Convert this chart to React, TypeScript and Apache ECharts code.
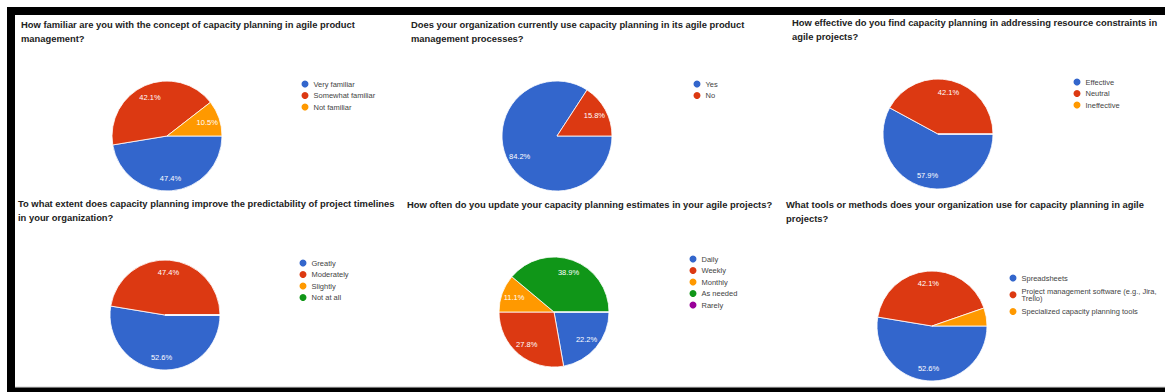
import React, { useEffect, useRef } from 'react';
import * as echarts from 'echarts';

const COLORS = ['#3366cc', '#dc3912', '#ff9900', '#109618', '#990099'];

const q1Title = 'How familiar are you with the concept of capacity planning in agile product\nmanagement?';
const q1Names = ['Very familiar', 'Somewhat familiar', 'Not familiar'];
const q1Values = [47.4, 42.1, 10.5];

const q2Title = 'Does your organization currently use capacity planning in its agile product\nmanagement processes?';
const q2Names = ['Yes', 'No'];
const q2Values = [84.2, 15.8];

const q3Title = 'How effective do you find capacity planning in addressing resource constraints in\nagile projects?';
const q3Names = ['Effective', 'Neutral', 'Ineffective'];
const q3Values = [57.9, 42.1, 0];

const q4Title = 'To what extent does capacity planning improve the predictability of project timelines\nin your organization?';
const q4Names = ['Greatly', 'Moderately', 'Slightly', 'Not at all'];
const q4Values = [52.6, 47.4, 0, 0];

const q5Title = 'How often do you update your capacity planning estimates in your agile projects?';
const q5Names = ['Daily', 'Weekly', 'Monthly', 'As needed', 'Rarely'];
const q5Values = [22.2, 27.8, 11.1, 38.9, 0];

const q6Title = 'What tools or methods does your organization use for capacity planning in agile\nprojects?';
const q6Names = ['Spreadsheets', 'Project management software (e.g., Jira, Trello)', 'Specialized capacity planning tools'];
const q6Values = [52.6, 42.1, 5.3];

const FONT = '"Liberation Sans", Arial, sans-serif';

const panels = [
  { title: q1Title, names: q1Names, values: q1Values, titleLeft: 21, titleTop: 17, center: [167, 136], legendLeft: 301.5, legendTop: 80, legendGap: 3.5 },
  { title: q2Title, names: q2Names, values: q2Values, titleLeft: 411, titleTop: 17, center: [557, 136], legendLeft: 693.5, legendTop: 80, legendGap: 3.5 },
  { title: q3Title, names: q3Names, values: q3Values, titleLeft: 792, titleTop: 15, center: [938, 134], legendLeft: 1073.5, legendTop: 78, legendGap: 3.5 },
  { title: q4Title, names: q4Names, values: q4Values, titleLeft: 18, titleTop: 196, center: [165, 315], legendLeft: 299.5, legendTop: 259, legendGap: 3.5 },
  { title: q5Title, names: q5Names, values: q5Values, titleLeft: 407, titleTop: 197, center: [554, 312], legendLeft: 689.5, legendTop: 255, legendGap: 3.5 },
  { title: q6Title, names: q6Names, values: q6Values, titleLeft: 786, titleTop: 197, center: [932, 326], legendLeft: 1009.5, legendTop: 274, legendGap: 5 },
];

const RADIUS = 55;
const LABEL_INNER = 24;

export default function App() {
  const ref = useRef<HTMLDivElement>(null);
  useEffect(() => {
    if (!ref.current) return;
    const chart = echarts.init(ref.current, undefined, { renderer: 'svg' });
    const series: any[] = [];
    panels.forEach((p) => {
      const base = p.names.map((n, i) => ({ name: n, value: p.values[i], itemStyle: { color: COLORS[i] } }));
      series.push({
        type: 'pie',
        center: p.center,
        radius: RADIUS,
        startAngle: 0,
        clockwise: true,
        silent: true,
        emphasis: { disabled: true },
        label: { show: false },
        labelLine: { show: false },
        itemStyle: { borderColor: '#ffffff', borderWidth: 0.8 },
        data: base,
      });
    });
    panels.forEach((p) => {
      series.push({
        type: 'pie',
        center: p.center,
        radius: [LABEL_INNER, RADIUS],
        startAngle: 0,
        clockwise: true,
        silent: true,
        emphasis: { disabled: true },
        itemStyle: { color: 'rgba(0,0,0,0)', borderWidth: 0 },
        labelLine: { show: false },
        label: {
          show: true,
          position: 'inside',
          color: '#ffffff',
          fontSize: 7.5,
          fontFamily: FONT,
          formatter: (q: any) => (q.value >= 6 ? q.value.toFixed(1) + '%' : ''),
        },
        data: p.names.map((n, i) => ({ name: n, value: p.values[i] })),
      });
    });
    const option: any = {
      animation: false,
      backgroundColor: '#ffffff',
      title: panels.map((p) => ({
        text: p.title,
        left: p.titleLeft,
        top: p.titleTop,
        padding: 0,
        textStyle: { fontFamily: FONT, fontSize: 9.4, fontWeight: 'bold', color: '#222222', lineHeight: 14.5 },
      })),
      legend: panels.map((p, idx) => ({
        data: p.names,
        left: p.legendLeft,
        top: p.legendTop,
        orient: 'vertical',
        icon: 'circle',
        itemWidth: 7,
        itemHeight: 7,
        itemGap: p.legendGap,
        padding: 0,
        selectedMode: false,
        itemStyle: { borderWidth: 0 },
        textStyle: { fontFamily: FONT, fontSize: 7.5, color: '#444444', lineHeight: idx === 5 ? 7.5 : 8 },
        formatter: idx === 5 ? (name: string) => name.replace('Jira, ', 'Jira,\n') : undefined,
      })),
      graphic: [
        { type: 'rect', shape: { x: 7, y: 7, width: 1158, height: 8 }, style: { fill: '#000000' }, silent: true },
        { type: 'rect', shape: { x: 7, y: 7, width: 8, height: 385 }, style: { fill: '#000000' }, silent: true },
        { type: 'rect', shape: { x: 15, y: 386.5, width: 1150, height: 1 }, style: { fill: '#cfcfcf' }, silent: true },
        { type: 'rect', shape: { x: 7, y: 387.5, width: 1158, height: 5 }, style: { fill: '#000000' }, silent: true },
      ],
      series,
    };
    chart.setOption(option);
    return () => chart.dispose();
  }, []);
  return (
    <div
      ref={ref}
      style={{ position: 'absolute', left: 0, top: 0, width: 1165, height: 392, background: '#ffffff' }}
    />
  );
}
